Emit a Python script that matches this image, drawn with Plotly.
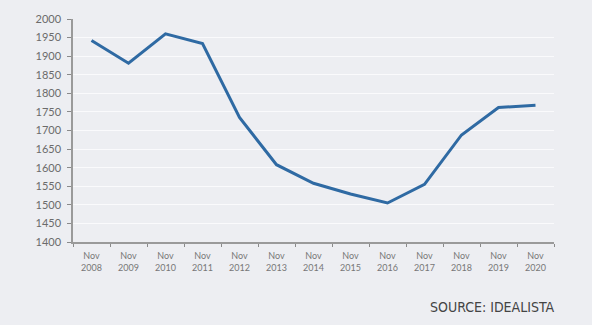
import plotly.graph_objects as go

categories = ["Nov<br>2008", "Nov<br>2009", "Nov<br>2010", "Nov<br>2011", "Nov<br>2012", "Nov<br>2013",
              "Nov<br>2014", "Nov<br>2015", "Nov<br>2016", "Nov<br>2017", "Nov<br>2018", "Nov<br>2019", "Nov<br>2020"]
values = [1942, 1881, 1960, 1934, 1735, 1608, 1558, 1529, 1505, 1555, 1688, 1762, 1768]
y_ticks = list(range(1400, 2001, 50))

fig = go.Figure(go.Scatter(x=categories, y=values, mode="lines",
                           line=dict(color="#2f6aa3", width=3)))

fig.update_layout(
    width=592, height=325,
    margin=dict(l=73, r=38, t=15, b=83),
    paper_bgcolor="#edeef2", plot_bgcolor="#edeef2",
    showlegend=False,
    font=dict(family="Lato, Open Sans, sans-serif", color="#6b6b6b"),
)
fig.update_xaxes(type="category", range=[-0.5, len(categories) - 0.5],
                 tickson="boundaries", ticks="outside", ticklen=3,
                 tickcolor="#8a8a8a", showline=True, linecolor="#9a9a9a", linewidth=2,
                 showgrid=False, ticklabelstandoff=4, tickfont=dict(size=9, color="#777777"))
fig.update_yaxes(range=[1400, 2000], tickvals=y_ticks, ticks="outside", ticklen=4,
                 tickcolor="#8a8a8a", showline=True, linecolor="#9a9a9a", linewidth=1.5,
                 gridcolor="#fafafc", gridwidth=1, zeroline=False, ticklabelstandoff=4,
                 tickfont=dict(size=11, color="#6b6b6b"))

fig.add_annotation(text="SOURCE: IDEALISTA", xref="paper", yref="paper",
                   x=1.005, y=-0.29, xanchor="right", yanchor="middle", showarrow=False,
                   font=dict(family="DejaVu Sans Condensed, Liberation Sans Narrow, sans-serif",
                             size=14, color="#444444"))

fig.write_html("out.html")
